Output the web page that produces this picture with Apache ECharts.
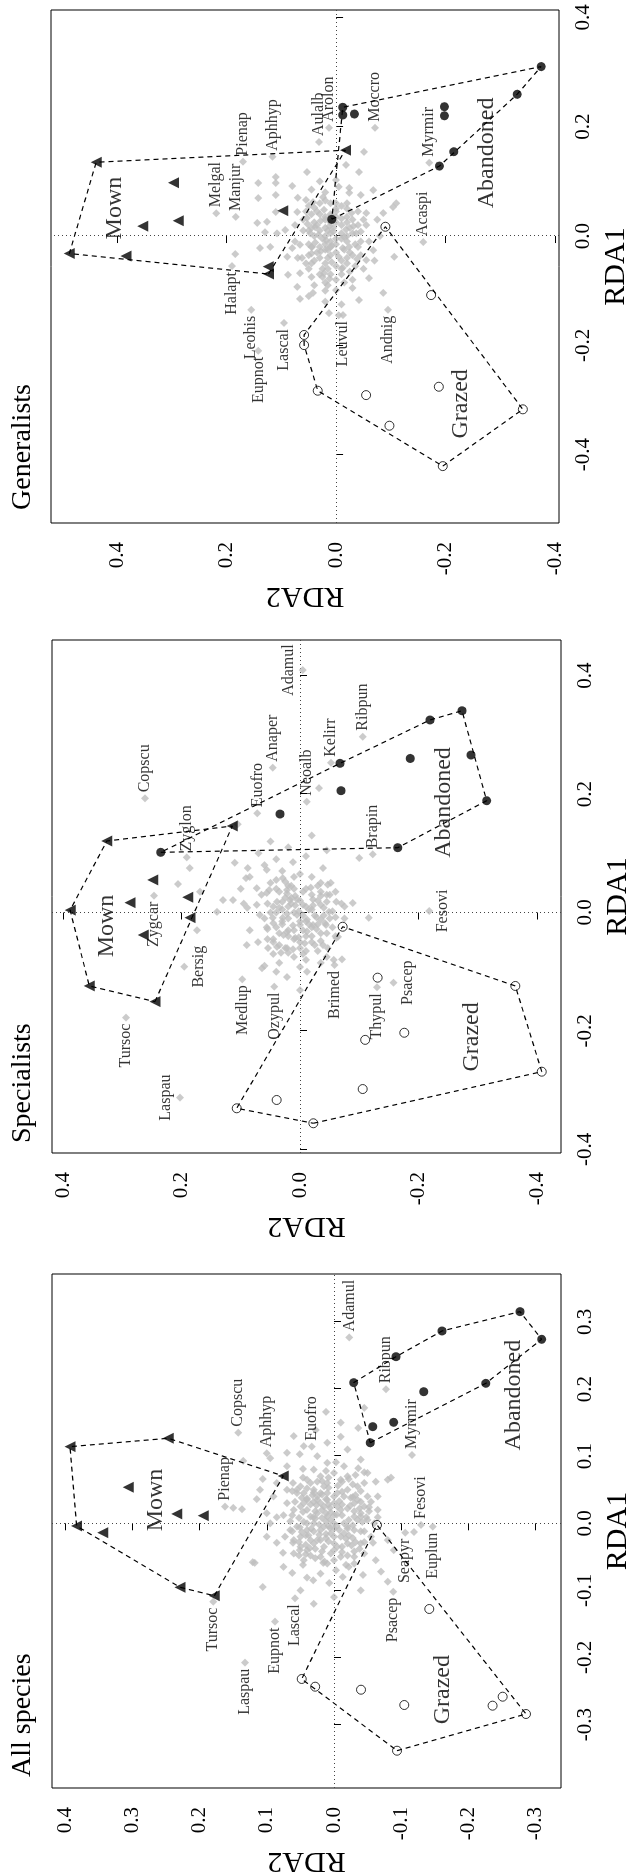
<!DOCTYPE html>
<html><head><meta charset="utf-8">
<script src="https://cdn.jsdelivr.net/npm/echarts@6/dist/echarts.min.js"></script>
<style>
html,body{margin:0;padding:0;background:#fff;width:633px;height:1876px;overflow:hidden}
#chart{position:absolute;left:0;top:0;width:1876px;height:633px;transform-origin:0 0;transform:translateY(1876px) rotate(-90deg);background:#fff}
</style></head><body><div id="chart"></div>
<script>
// ---------------- DATA ([RDA1, RDA2]) ----------------
const panelTitles = ['All species','Specialists','Generalists'];
const groupNames = ['Mown','Abandoned','Grazed'];

// tick labels
const allTicks1 = [-0.3,-0.2,-0.1,0.0,0.1,0.2,0.3];
const allTicks2 = [-0.3,-0.2,-0.1,0.0,0.1,0.2,0.3,0.4];
const speTicks1 = [-0.4,-0.2,0.0,0.2,0.4];
const speTicks2 = [-0.4,-0.2,0.0,0.2,0.4];
const genTicks1 = [-0.4,-0.2,0.0,0.2,0.4];
const genTicks2 = [-0.4,-0.2,0.0,0.2,0.4];

// ---- All species ----
const allMown = [[0.1142,0.3929],[0.1267,0.2466],[0.0705,0.0754],[0.0537,0.306],[0.0139,0.234],[0.0113,0.1945],[-0.004,0.383],[-0.014,0.344],[-0.0954,0.229],[-0.108,0.178]];
const allAband = [[0.3154,-0.2768],[0.2742,-0.309],[0.2866,-0.1607],[0.2483,-0.0923],[0.2096,-0.0293],[0.1961,-0.1335],[0.2086,-0.226],[0.1505,-0.0888],[0.144,-0.0576],[0.12,-0.054]];
const allGrazed = [[-0.0025,-0.064],[-0.232,0.048],[-0.2435,0.028],[-0.1277,-0.1418],[-0.248,-0.0402],[-0.2708,-0.1046],[-0.3389,-0.0938],[-0.2718,-0.236],[-0.2584,-0.251],[-0.2842,-0.2857]];
const allSpNames = ['Adamul','Ribpun','Myrmir','Fesovi','Euplun','Seapyr','Psacep','Pienap','Copscu','Aphhyp','Euofro','Tursoc','Laspau','Eupnot','Lascal'];
const allSpRDA1 = [0.277,0.1997,0.1018,-0.0025,-0.005,-0.014,-0.102,0.0248,0.135,0.1043,0.1142,-0.1168,-0.2077,-0.1466,-0.1118];
const allSpRDA2 = [-0.0228,-0.0774,-0.116,-0.1295,-0.147,-0.106,-0.088,0.162,0.1424,0.100,0.0332,0.1796,0.1324,0.0878,0.058];
const allCloud = [[0.093,0.135],[0.097,0.095],[0.103,0.051],[0.081,0.046],[0.060,0.061],[0.066,0.106],[0.050,0.110],[0.036,0.115],[0.023,0.150],[0.021,0.137],[0.015,0.100],[0.009,0.085],[0.003,0.065],[-0.006,0.051],[0.009,0.031],[0.035,0.040],[-0.020,0.073],[-0.029,0.061],[-0.029,0.085],[-0.044,0.076],[-0.040,0.051],[-0.058,0.121],
[0.166,0.012],[0.139,0.027],[0.129,-0.010],[0.172,-0.045],[0.142,-0.036],[0.091,-0.003],[0.082,-0.036],[0.076,-0.045],[0.065,-0.080],[0.068,-0.085],[0.062,-0.062],[0.039,-0.028],[0.032,-0.040],[0.024,-0.052],[0.009,-0.048],[0.009,-0.065],[-0.013,-0.119],[-0.025,-0.080],[-0.029,-0.058],[-0.040,-0.089],[-0.055,-0.062],
[-0.059,0.118],[-0.095,0.106],[-0.074,0.062],[-0.062,0.046],[-0.081,0.040],[-0.085,0.031],[-0.089,0.007],[-0.080,-0.013],[-0.065,-0.022],[-0.077,-0.043],[-0.072,-0.070],[-0.087,-0.080],[-0.070,-0.003],[-0.059,0.016],
[0.0,0.0],[0.01,0.01],[-0.01,0.02],[0.02,-0.01],[-0.02,-0.01],[0.03,0.02],[-0.03,0.03],[0.04,0.0],[-0.04,0.0],[0.01,-0.03],[-0.01,-0.03],[0.02,0.04],[-0.02,0.05],[0.05,0.03],[-0.05,0.02],[0.03,-0.03],[-0.03,-0.04],[0.05,-0.02],[-0.05,-0.03],[0.0,0.04],[0.06,0.01],[-0.06,0.01],[0.015,0.025],[-0.015,-0.015],[0.035,0.01],[-0.035,0.015],[0.025,-0.045],[-0.025,0.035],[0.045,0.045],[-0.045,-0.045],[0.005,-0.05],[0.055,0.05],[-0.005,0.055],[0.04,-0.05],[-0.04,0.04],[0.02,0.06],[0.065,-0.01],[-0.055,0.045],[0.01,0.035],[-0.02,0.0],[0.03,0.0],[0.0,-0.015],[0.045,0.02],[-0.045,0.005],[-0.01,0.04],[0.015,-0.04],[0.05,0.055],[-0.03,-0.02],[0.025,0.015],[-0.012,-0.045],
[0.07,0.02],[0.075,0.0],[0.07,-0.02],[0.06,0.035],[0.055,-0.035],[0.045,0.055],[0.04,0.025],[0.04,-0.015],[0.035,-0.035],[0.03,0.045],[0.028,0.008],[0.022,-0.02],[0.018,0.028],[0.012,-0.012],[0.008,0.018],[0.005,-0.035],[0.0,0.03],[-0.004,0.008],[-0.008,-0.02],[-0.012,0.03],[-0.016,0.012],[-0.022,-0.028],[-0.025,0.02],[-0.03,0.0],[-0.035,-0.012],[-0.038,0.028],[-0.042,-0.03],[-0.048,0.035],[-0.05,-0.01],[-0.055,0.0],[-0.06,-0.03],[-0.045,0.06],[-0.035,0.05],[0.065,0.04],[0.08,0.03],[0.085,-0.015],[0.075,-0.05],[0.06,-0.045],[0.05,0.07],[0.03,0.07],[0.012,0.075],[-0.01,0.065],[-0.025,0.06],[0.02,-0.065],[0.0,-0.06],[-0.02,-0.055],[0.04,-0.065],[0.055,0.015],[0.045,-0.005],[0.025,0.05],[0.002,0.045],[-0.018,0.042],[0.032,0.03],[0.012,0.0],[-0.008,0.0],[0.018,-0.03],[-0.028,-0.045],[-0.012,-0.04],[0.048,-0.04],[0.062,-0.012],[0.09,0.01],[0.1,0.025],[0.11,-0.02],[0.12,0.01],[0.105,0.07],[0.085,0.07],[0.095,-0.04],[0.115,0.045],[0.13,0.06],[0.15,-0.01],[-0.065,0.075],[-0.075,0.02],[-0.1,0.05],[-0.11,0.0],[-0.1,-0.04],[-0.12,0.03],[0.0,0.095],[-0.02,0.1],[0.04,0.09],[0.06,0.085],
[0.005,0.005],[0.015,0.012],[-0.005,0.015],[0.025,-0.005],[-0.015,0.005],[0.035,0.025],[-0.025,0.025],[0.045,0.01],[-0.035,-0.005],[0.005,-0.022],[-0.005,-0.02],[0.028,0.035],[-0.018,0.038],[0.052,0.04],[-0.042,0.018],[0.038,-0.025],[-0.028,-0.032],[0.058,-0.028],[-0.048,-0.02],[0.008,0.052],[0.068,0.008],[-0.052,0.028],[0.02,0.018],[-0.01,-0.008],[0.042,0.032],[-0.032,0.042],[0.018,-0.052],[-0.022,0.012],[0.062,0.025],[-0.038,-0.038],[0.01,-0.04],[0.048,0.062],[-0.012,0.062],[0.032,-0.055],[-0.048,0.052],[0.072,-0.032],[-0.062,-0.018],[0.028,-0.012],[0.038,0.048],[-0.002,0.022],
[0.003,0.012],[0.013,-0.004],[-0.007,0.006],[0.023,0.006],[-0.017,0.022],[0.033,-0.008],[-0.027,0.008],[0.043,0.018],[-0.037,0.036],[0.053,0.008],[-0.043,-0.012],[0.017,0.046],[-0.003,-0.028],[0.027,0.026],[-0.023,-0.018],[0.037,0.04],[-0.033,-0.026],[0.047,-0.012],[0.007,0.028],[-0.013,0.048],[0.063,0.018],[-0.057,0.014],[0.022,-0.038],[-0.008,0.034],[0.032,0.058],[0.056,-0.006],[-0.018,-0.022],[0.042,-0.032],[0.012,0.062],[-0.028,0.052],[0.068,0.046],[0.078,0.012],[0.002,-0.042],[0.026,-0.024],[-0.046,0.042],[0.036,0.012],[0.016,0.005],[-0.004,-0.004],[0.046,0.03],[0.066,-0.022]];
const allGroupLab = [[0.0347,0.265],[0.191,-0.268],[-0.248,-0.162]];

// ---- Specialists ----
const speMown = [[0.1207,0.326],[0.004,0.388],[0.055,0.2486],[0.0166,0.287],[0.0257,0.1896],[-0.0088,0.1857],[0.146,0.1142],[-0.038,0.2645],[-0.124,0.3556],[-0.1505,0.2447]];
const speAband = [[0.1016,0.235],[0.1662,0.0338],[0.2518,-0.0675],[0.2056,-0.0692],[0.26,-0.186],[0.325,-0.2194],[0.3406,-0.2734],[0.2658,-0.2886],[0.1887,-0.315],[0.1094,-0.165]];
const speGrazed = [[-0.024,-0.072],[-0.3305,0.1068],[-0.3165,0.0394],[-0.3558,-0.0225],[-0.11,-0.131],[-0.215,-0.110],[-0.203,-0.176],[-0.298,-0.1058],[-0.124,-0.3634],[-0.2687,-0.408]];
const speSpNames = ['Copscu','Zyglon','Euofro','Anaper','Adamul','Neoalb','Kelirr','Ribpun','Brapin','Fesovi','Zygcar','Bersig','Tursoc','Laspau','Medlup','Ozypul','Brimed','Thypul','Psacep'];
const speSpRDA1 = [0.1927,0.093,0.1674,0.2444,0.4093,0.187,0.2528,0.2967,0.0982,0.0025,0.0284,-0.0915,-0.1775,-0.3125,-0.1128,-0.1252,-0.0886,-0.1262,-0.1185];
const speSpRDA2 = [0.2616,0.191,0.072,0.046,-0.0045,-0.0113,-0.0523,-0.1058,-0.1227,-0.218,0.2465,0.1953,0.2937,0.2025,0.0974,0.0434,-0.058,-0.130,-0.158];
const speCloud = [[0.075,0.186],[0.048,0.206],[0.035,0.169],[-0.030,0.174],[0.001,0.140],[0.021,0.130],[0.021,0.113],[0.084,0.110],[0.149,0.105],[0.075,0.088],[0.058,0.091],[0.041,0.073],[0.072,0.056],[0.058,0.029],[0.085,0.012],[0.038,0.022],[0.008,0.089],[0.013,0.073],[0.033,0.056],[0.018,0.039],[0.021,0.017],[-0.004,0.068],[-0.009,0.046],[-0.009,0.029],[-0.004,0.005],[-0.025,0.056],[-0.033,0.022],[0.013,-0.005],[-0.021,0.0],[-0.021,-0.022],
[0.210,-0.032],[0.092,-0.1],[0.075,-0.039],[0.047,-0.047],[0.050,-0.052],[0.018,-0.061],[0.016,-0.089],[-0.009,-0.116],[0.013,-0.035],[0.001,-0.049],[-0.021,-0.044],[-0.041,-0.064],
[-0.050,0.071],[-0.060,0.054],[-0.058,0.039],[-0.060,0.022],[-0.068,0.020],[-0.094,0.064],[-0.109,0.022],[-0.092,0.0],[-0.131,0.0],[-0.100,-0.012],[-0.043,0.008],
[-0.055,-0.039],[-0.060,-0.047],[-0.043,-0.061],[-0.085,-0.035],[-0.080,-0.057],[-0.079,-0.071],
[0.0,0.01],[0.01,-0.01],[-0.01,0.02],[0.02,0.0],[-0.015,-0.01],[0.005,0.03],[-0.03,0.01],[0.03,-0.02],[-0.02,-0.03],[0.04,0.01],[-0.04,-0.02],[0.01,0.045],[-0.035,0.035],[0.025,0.025],[-0.05,0.0],[0.045,-0.03],[-0.01,-0.05],[0.055,0.04],[-0.045,0.045],[0.03,-0.045],[-0.025,-0.055],[0.015,0.015],[-0.005,-0.025],[0.035,0.035],[-0.065,-0.01],
[0.07,0.03],[0.065,0.0],[0.06,-0.02],[0.05,0.05],[0.045,0.02],[0.04,-0.01],[0.035,-0.035],[0.03,0.065],[0.028,0.008],[0.022,-0.022],[0.015,0.055],[0.01,0.02],[0.005,-0.015],[0.0,0.04],[-0.005,-0.04],[-0.01,0.06],[-0.015,0.03],[-0.02,-0.015],[-0.025,0.04],[-0.03,-0.005],[-0.035,-0.035],[-0.04,0.02],[-0.045,0.055],[-0.05,-0.02],[-0.055,0.035],[-0.06,0.0],[-0.065,-0.03],[-0.07,0.045],[-0.075,0.01],[-0.08,-0.01],[-0.085,0.035],[-0.09,0.06],[-0.1,0.04],[-0.075,-0.045],[0.08,0.06],[0.09,0.04],[0.1,0.07],[0.11,0.02],[0.12,0.05],[0.095,-0.01],[0.105,-0.045],[0.13,-0.02],[0.015,-0.07],[-0.01,-0.075],[0.035,-0.06],[0.06,0.085],[0.04,0.1],[0.015,0.095],[-0.03,0.085],[-0.055,0.09],
[-0.005,-0.005],[0.005,-0.02],[-0.015,0.0],[0.012,0.008],[-0.025,-0.02],[0.02,-0.03],[-0.03,0.02],[0.025,0.015],[-0.04,-0.01],[0.008,-0.04],[-0.012,-0.035],[0.035,-0.005],[-0.045,0.01],[-0.02,0.03],[0.018,0.03],[-0.035,-0.045],[0.03,-0.05],[-0.055,-0.025],[0.045,0.015],[-0.06,0.025],[0.0,0.05],[-0.008,-0.06],[0.05,-0.035],[-0.07,-0.005],[-0.028,0.055],[0.04,0.04],[0.01,-0.075],[-0.05,0.045],[0.06,0.01],[-0.04,-0.06],
[-0.012,-0.012],[0.002,0.002],[-0.022,0.012],[0.012,-0.022],[-0.032,-0.012],[0.022,0.005],[-0.042,0.002],[0.032,0.022],[-0.002,0.022],[-0.018,-0.042],[0.008,0.035],[-0.052,-0.008],[0.042,-0.018],[-0.008,-0.028],[0.018,-0.045],[-0.038,0.028],[-0.028,-0.028],[0.028,-0.035],[-0.062,0.012],[0.052,0.025],[0.002,-0.055],[-0.048,-0.035],[-0.018,0.045],[0.038,0.052],[-0.068,0.032]];
const speGroupLab = [[-0.0228,0.326],[0.1857,-0.242],[-0.21,-0.29]];

// ---- Generalists ----
const genMown = [[0.135,0.438],[-0.032,0.487],[-0.0366,0.3836],[-0.0695,0.1236],[-0.056,0.124],[0.0975,0.297],[0.028,0.288],[0.018,0.353],[0.0463,0.0974],[0.157,-0.017]];
const genAband = [[0.31,-0.3744],[0.2593,-0.3306],[0.2366,-0.1978],[0.22,-0.1978],[0.2355,-0.0122],[0.2214,-0.0122],[0.2232,-0.0335],[0.1543,-0.215],[0.128,-0.1887],[0.0305,0.0079]];
const genGrazed = [[0.017,-0.09],[-0.108,-0.1735],[-0.283,0.0335],[-0.291,-0.0548],[-0.347,-0.0974],[-0.2757,-0.1876],[-0.4209,-0.1948],[-0.317,-0.341],[-0.181,0.0584],[-0.1995,0.0584]];
const genSpNames = ['Pienap','Aphhyp','Melgal','Manjur','Aulalb','Arolon','Moccro','Myrmir','Acaspi','Halapt','Leohis','Eupnot','Lascal','Leuvul','Andnig'];
const genSpRDA1 = [0.136,0.145,0.0415,0.035,0.172,0.198,0.198,0.134,-0.011,-0.055,-0.135,-0.210,-0.159,-0.1446,-0.135];
const genSpRDA2 = [0.170,0.116,0.219,0.183,0.031,0.013,-0.071,-0.170,-0.159,0.190,0.155,0.142,0.095,-0.0128,-0.095];
const genCloud = [[0.117,0.053],[0.097,0.142],[0.108,0.110],[0.097,0.110],[0.0915,0.080],[0.0695,0.142],[0.075,0.110],[0.044,0.110],[0.066,0.055],[0.062,0.042],[0.044,0.071],[0.024,0.144],[0.026,0.126],[0.007,0.130],[0.005,0.108],[0.011,0.093],[-0.022,0.139],[-0.020,0.120],[-0.022,0.080],[-0.016,0.066],[-0.020,0.044],[-0.033,0.184],[-0.038,0.089],[-0.040,0.062],[-0.071,0.088],[-0.068,0.066],[-0.093,0.071],[-0.115,0.066],[-0.104,0.042],[0.033,0.053],[0.016,0.038],[0.005,0.047],
[0.154,-0.051],[0.130,-0.018],[0.117,-0.042],[0.1025,0.0],[0.088,-0.024],[0.084,-0.068],[0.060,-0.110],[0.053,-0.104],[0.042,-0.086],[0.071,0.024],[0.060,0.0],[0.079,-0.024],[0.042,-0.055],[0.005,-0.037],[-0.020,-0.024],[-0.026,-0.068],[-0.044,-0.055],[-0.038,-0.106],[-0.104,-0.086],[-0.077,-0.060],[-0.099,0.0],[-0.117,-0.042],[-0.141,0.013],[-0.145,-0.005],
[0.03,0.02],[0.01,0.03],[-0.01,0.01],[0.02,-0.01],[0.0,-0.02],[-0.02,0.03],[-0.03,0.0],[0.04,0.01],[0.05,-0.02],[-0.04,-0.02],[-0.05,0.02],[0.01,0.05],[-0.06,-0.01],[0.02,-0.04],[-0.02,-0.04],[-0.07,0.03],[-0.08,-0.03],[0.06,0.03],[0.03,-0.05],[-0.01,-0.06],[-0.035,0.05],[0.015,0.005],[-0.015,0.02],[-0.045,0.04],[0.045,0.035],[-0.09,0.015],[-0.06,0.05],[0.025,0.04],[-0.035,-0.045],[0.0,0.02],[-0.005,-0.01],[0.035,0.0],[-0.025,0.015],[-0.055,-0.035],[0.015,-0.025],
[0.065,0.02],[0.06,-0.02],[0.055,0.05],[0.05,0.0],[0.045,-0.04],[0.04,0.03],[0.035,-0.02],[0.03,0.06],[0.025,0.0],[0.02,-0.055],[0.015,0.045],[0.01,0.015],[0.005,-0.03],[0.0,0.04],[-0.005,0.0],[-0.01,-0.045],[-0.015,0.05],[-0.02,0.01],[-0.025,-0.015],[-0.03,0.035],[-0.035,-0.03],[-0.04,0.015],[-0.045,-0.01],[-0.05,0.045],[-0.055,0.0],[-0.06,0.025],[-0.065,-0.025],[-0.07,0.01],[-0.075,0.045],[-0.08,0.0],[-0.085,-0.015],[-0.09,0.04],[-0.095,-0.03],[-0.1,0.02],[-0.06,-0.05],[-0.045,-0.07],[0.08,0.02],[0.085,0.045],[0.07,0.07],[0.09,-0.005],[0.1,0.03],[0.075,-0.045],[0.02,0.075],[-0.01,0.075],[-0.04,0.07],[0.0,-0.08],[0.03,-0.075],[-0.12,0.02],[-0.125,-0.01],[-0.11,0.05],
[0.005,0.01],[0.015,0.02],[-0.005,0.025],[0.025,0.01],[-0.015,0.0],[0.035,0.02],[-0.025,0.02],[0.045,0.0],[-0.035,0.01],[0.005,-0.01],[-0.01,-0.02],[0.02,0.035],[-0.02,0.045],[0.04,0.045],[-0.04,0.03],[0.03,-0.03],[-0.03,-0.025],[0.055,-0.01],[-0.05,-0.02],[0.01,0.06],[0.06,0.01],[-0.06,0.015],[-0.07,-0.01],[-0.075,0.025],[-0.05,0.055],[0.025,-0.02],[-0.015,-0.035],[0.045,0.055],[0.008,-0.045],[-0.085,0.02],
[0.008,0.005],[0.018,0.012],[-0.008,0.018],[0.028,0.028],[-0.018,0.008],[0.038,0.008],[-0.028,0.028],[-0.038,-0.005],[0.012,-0.018],[-0.012,0.038],[0.022,0.052],[-0.022,-0.012],[0.048,0.022],[-0.048,0.008],[0.032,-0.01],[-0.032,0.045],[0.002,0.032],[-0.058,-0.012],[-0.068,0.022],[0.052,0.04],[-0.002,-0.015],[0.042,-0.028],[-0.042,-0.038],[-0.078,0.012],[0.018,-0.032]];
const genGroupLab = [[0.0512,0.4036],[0.152,-0.2758],[-0.307,-0.227]];

// ---------------- LAYOUT / STYLE ----------------
const FONT = '"Liberation Serif", serif';
const labelSide = {
  all: {Adamul:'right',Ribpun:'right',Myrmir:'right',Fesovi:'right',Euplun:'left',Seapyr:'left',Psacep:'left',Pienap:'right',Copscu:'right',Aphhyp:'right',Euofro:'right',Tursoc:'left',Laspau:'left',Eupnot:'left',Lascal:'left'},
  spe: {Copscu:'right',Zyglon:'right',Euofro:'right',Anaper:'right',Adamul:'top',Neoalb:'right',Kelirr:'right',Ribpun:'right',Brapin:'right',Fesovi:'bottom',Zygcar:'left',Bersig:'bottom',Tursoc:'left',Laspau:'top',Medlup:'left',Ozypul:'left',Brimed:'left',Thypul:'left',Psacep:'bottom'},
  gen: {Pienap:'right',Aphhyp:'right',Melgal:'right',Manjur:'right',Aulalb:'right',Arolon:'right',Moccro:'right',Myrmir:'right',Acaspi:'right',Halapt:'left',Leohis:'left',Eupnot:'left',Lascal:'left',Leuvul:'left',Andnig:'left'}
};
const panels = [
  {key:'all', grid:{left:88,top:52,width:514,height:509}, xr:[-0.3945,0.3715], yr:[-0.3378,0.4196], t1:allTicks1, t2:allTicks2,
   mown:allMown, aband:allAband, grazed:allGrazed, names:allSpNames, r1:allSpRDA1, r2:allSpRDA2, cloud:allCloud, glab:allGroupLab, titleX:99},
  {key:'spe', grid:{left:723,top:52,width:513,height:509}, xr:[-0.406,0.46], yr:[-0.4405,0.4186], t1:speTicks1, t2:speTicks2,
   mown:speMown, aband:speAband, grazed:speGrazed, names:speSpNames, r1:speSpRDA1, r2:speSpRDA2, cloud:speCloud, glab:speGroupLab, titleX:733},
  {key:'gen', grid:{left:1353,top:51,width:513,height:508}, xr:[-0.525,0.4135], yr:[-0.407,0.5205], t1:genTicks1, t2:genTicks2,
   mown:genMown, aband:genAband, grazed:genGrazed, names:genSpNames, r1:genSpRDA1, r2:genSpRDA2, cloud:genCloud, glab:genGroupLab, titleX:1366}
];

function hull(pts){
  const p = pts.slice().sort((a,b)=>a[0]-b[0]||a[1]-b[1]);
  const cr=(o,a,b)=>(a[0]-o[0])*(b[1]-o[1])-(a[1]-o[1])*(b[0]-o[0]);
  const lo=[];for(const q of p){while(lo.length>=2&&cr(lo[lo.length-2],lo[lo.length-1],q)<=0)lo.pop();lo.push(q);}
  const up=[];for(let i=p.length-1;i>=0;i--){const q=p[i];while(up.length>=2&&cr(up[up.length-2],up[up.length-1],q)<=0)up.pop();up.push(q);}
  up.pop();lo.pop();const h=lo.concat(up);h.push(h[0]);return h;
}

const option = {animation:false, backgroundColor:'#fff', title:[], grid:[], xAxis:[], yAxis:[], series:[]};
const fmt = v => (Math.round(v*10)/10).toFixed(1);
panels.forEach((P,i)=>{
  option.title.push({text:panelTitles[i], left:P.titleX, top:9, padding:0,
    textStyle:{fontFamily:FONT, fontSize:28, fontWeight:'normal', color:'#000'}});
  option.grid.push(Object.assign({show:true, borderColor:'#000', borderWidth:1, backgroundColor:'transparent', containLabel:false, outerBoundsMode:'none'}, P.grid));
  option.xAxis.push({type:'value', gridIndex:i, min:P.xr[0], max:P.xr[1],
    axisLine:{show:false}, splitLine:{show:false},
    axisTick:{show:true, inside:false, length:7, lineStyle:{color:'#000', width:1}, customValues:P.t1},
    axisLabel:{show:true, customValues:P.t1, formatter:fmt, margin:14, fontFamily:FONT, fontSize:21, color:'#000'},
    name:'RDA1', nameLocation:'middle', nameGap:42, nameTextStyle:{fontFamily:FONT, fontSize:30, color:'#000'}});
  option.yAxis.push({type:'value', gridIndex:i, min:P.yr[0], max:P.yr[1],
    axisLine:{show:false}, splitLine:{show:false},
    axisTick:{show:true, inside:false, length:7, lineStyle:{color:'#000', width:1}, customValues:P.t2},
    axisLabel:{show:true, customValues:P.t2, formatter:fmt, margin:19, fontFamily:FONT, fontSize:21, color:'#000'},
    name:'RDA2', nameLocation:'middle', nameGap:58, nameTextStyle:{fontFamily:FONT, fontSize:30, color:'#000'}});
  option.series.push({type:'scatter', xAxisIndex:i, yAxisIndex:i, data:P.cloud, symbol:'diamond', symbolSize:8,
    itemStyle:{color:'#bebebe'}, z:2, silent:true,
    markLine:{silent:true, symbol:['none','none'], label:{show:false}, lineStyle:{color:'#444', width:1, type:[1,3]},
      data:[{xAxis:0},{yAxis:0}], z:1}});
  option.series.push({type:'scatter', xAxisIndex:i, yAxisIndex:i, symbol:'diamond', symbolSize:8, itemStyle:{color:'#bebebe'}, z:3,
    data:P.names.map((n,k)=>({name:n, value:[P.r1[k],P.r2[k]], label:{position:labelSide[P.key][n]}})),
    label:{show:true, formatter:'{b}', distance:2, fontFamily:FONT, fontSize:16, color:'#000'}, labelLayout:{hideOverlap:false}});
  [P.mown,P.aband,P.grazed].forEach(g=>{
    option.series.push({type:'line', xAxisIndex:i, yAxisIndex:i, data:hull(g), showSymbol:false, symbol:'none', z:4,
      lineStyle:{color:'#000', width:1.2, type:[5,4]}, silent:true});
  });
  option.series.push({type:'scatter', xAxisIndex:i, yAxisIndex:i, data:P.mown, symbol:'triangle', symbolSize:11, itemStyle:{color:'#000'}, z:5});
  option.series.push({type:'scatter', xAxisIndex:i, yAxisIndex:i, data:P.aband, symbol:'circle', symbolSize:9, itemStyle:{color:'#000'}, z:5});
  option.series.push({type:'scatter', xAxisIndex:i, yAxisIndex:i, data:P.grazed, symbol:'circle', symbolSize:9,
    itemStyle:{color:'rgba(0,0,0,0)', borderColor:'#000', borderWidth:1}, z:5});
  option.series.push({type:'scatter', xAxisIndex:i, yAxisIndex:i, symbolSize:0, z:6,
    data:P.glab.map((v,k)=>({name:groupNames[k], value:v})),
    label:{show:true, position:'inside', formatter:'{b}', fontFamily:FONT, fontSize:24, color:'#000'}});
});
const chart = echarts.init(document.getElementById('chart'), null, {renderer:'canvas'});
chart.setOption(option);
</script></body></html>
